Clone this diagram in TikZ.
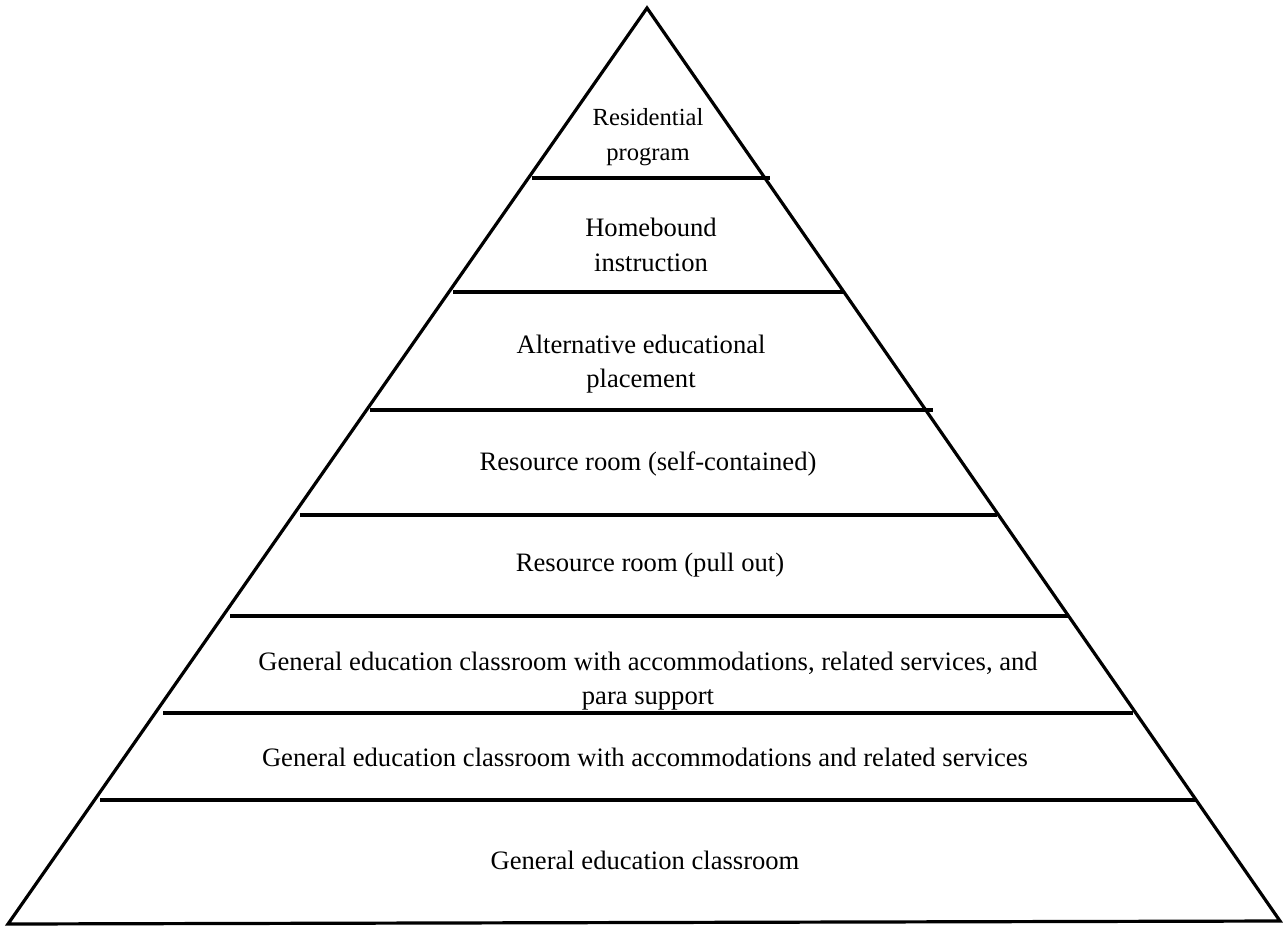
\documentclass[tikz,border=0pt]{standalone}
\usepackage{fontspec}
\setmainfont{Liberation Serif}
\usetikzlibrary{positioning}
\tikzstyle{pyramid} = [x = .5pt, y = -.5pt]
\tikzstyle{sideLine} = [color=black, line width=1.6pt, line join=miter]
\tikzstyle{levelLine} = [color=black, line width=1.6pt]
\tikzstyle{levelText} = [font=\fontsize{13.3}{17.2}\selectfont, align=center, inner sep=0pt]
\newcommand{\levelLine}[3]{\draw [levelLine] (#1, #3) -- (#2, #3);}

\begin{document}
\begin{tikzpicture}[pyramid]
  \useasboundingbox (0,0) rectangle (1283,926);
  % outline of the pyramid
  \draw [sideLine] (8,924) -- (647,8) -- (1280,921) -- cycle;

  % the levels
  \levelLine{532}{770}{178}
  \levelLine{453}{843}{292}
  \levelLine{370}{933}{410}
  \levelLine{300}{997}{515}
  \levelLine{230}{1068}{616}
  \levelLine{163}{1133}{713}
  \levelLine{100}{1197}{800}

  \node [levelText, font=\fontsize{12.3}{17.2}\selectfont] (residential) at (648,137) {Residential\\program};
  \node [levelText] (homebound) at (651,245) {Homebound\\instruction};
  \node [levelText] (alternative) at (641,364) {Alternative educational\\placement};
  \node [levelText] (selfContained) at (648,464) {Resource room (self-contained)};
  \node [levelText] (pullOut) at (650,565) {Resource room (pull out)};
  \node [levelText] (paraSupport) at (648,681) {General education classroom with accommodations, related services, and\\para support};
  \node [levelText] (relatedServices) at (645,757) {General education classroom with accommodations and related services};
  \node [levelText] (generalClassroom) at (645,860) {General education classroom};
\end{tikzpicture}
\end{document}
